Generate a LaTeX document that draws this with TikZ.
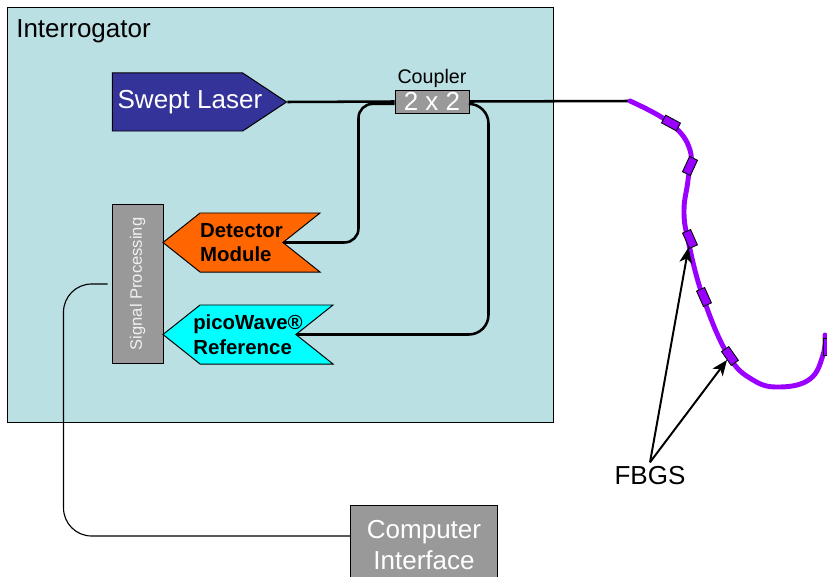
\documentclass[tikz,border=0pt]{standalone}
\usepackage{fontspec}
\setmainfont{Liberation Sans}
\usetikzlibrary{positioning,shapes.symbols,arrows.meta,calc}
\definecolor{interblue}{RGB}{186,224,227}
\definecolor{laserblue}{RGB}{51,51,153}
\definecolor{detorange}{RGB}{255,102,0}
\definecolor{refcyan}{RGB}{0,255,255}
\definecolor{procgrey}{RGB}{153,153,153}
\definecolor{fbgpurple}{RGB}{153,0,255}
\newcommand{\largetxt}{\fontsize{18.5}{22}\selectfont}
\newcommand{\midtxt}{\fontsize{14}{17}\selectfont}
\newcommand{\tagtxt}{\fontsize{14.5}{17.5}\selectfont\bfseries}
\newcommand{\smalltxt}{\fontsize{11.8}{14}\selectfont}
\tikzset{>={Stealth[length=11pt,width=9pt,inset=3pt]},
  greybox/.style={draw=black, line width=0.7pt, fill=procgrey, text=white, align=center, inner sep=0pt},
  tagshape/.style={shape=signal, draw=black, line width=0.7pt, signal pointer angle=#1, align=left, inner sep=0pt},
  fibre/.style={line width=1.8pt},
  fbgline/.style={line width=3.5pt, draw=fbgpurple, line cap=round},
  grating/.style={draw=black, fill=fbgpurple, line width=0.6pt, minimum width=0.42cm, minimum height=0.22cm, inner sep=0pt}}

\begin{document}
\begin{tikzpicture}[x=0.025cm,y=-0.025cm]
\useasboundingbox (0,0) rectangle (827,577);
\clip (0,0) rectangle (827,577);

\draw[fill=interblue, line width=0.7pt] (7,7) rectangle (553,422);
\node[anchor=base west, font=\largetxt, inner sep=0pt] (interrogator) at (16,38) {Interrogator};

\node[tagshape=67, fill=laserblue, text=white, signal to=east, inner xsep=-13.9pt, minimum height=1.45cm, font=\largetxt] (laser) at (177.5,102) {\hspace*{17.7pt}Swept Laser};
\node[greybox, minimum width=1.85cm, minimum height=0.575cm, font=\largetxt] (coupler) at (432,101.5) {2 x 2};
\node[above=1pt of coupler, font=\midtxt, inner sep=0pt] (couplerlabel) {Coupler};
\node[greybox, rotate=90, minimum width=3.95cm, minimum height=1.275cm, text=black!6, font=\smalltxt] (sigproc) at (137.5,284) {Signal Processing};
\node[tagshape=77, fill=detorange, signal to=west, signal from=east, minimum width=3.925cm, minimum height=1.475cm, font=\tagtxt] (detector) at (241.5,242.5) {Detector\\Module};
\node[tagshape=77, fill=refcyan, signal to=west, signal from=east, inner xsep=-5pt, minimum width=4.25cm, minimum height=1.475cm, font=\tagtxt] (picoref) at (248,334.5) {picoWave®\\Reference};
\node[greybox, minimum width=3.65cm, minimum height=2cm, font=\largetxt] (computer) at (424,545) {Computer\\Interface};

\coordinate (fibrestart) at (630,101);
\draw[fibre] (laser.east) -- (coupler.west);
\draw[fibre] (coupler.east) -- (fibrestart);
\draw[fibre, rounded corners=10] ([yshift=-0.06cm]coupler.west) -- ++(-36,0) |- (detector.east);
\draw[fibre, rounded corners=14] ([yshift=-0.06cm]coupler.east) -- ++(19,0) |- (picoref.east);
\draw[line width=0.8pt, rounded corners=20] ([xshift=-0.1cm]sigproc.north) -- ++(-44,0) |- ([yshift=0.225cm]computer.west);

\draw[fbgline] plot[smooth, tension=0.7] coordinates {(fibrestart) (670,123) (690,150) (688,180) (684,210) (688,240) (703,297) (728,355) (753,380) (780,387) (810,379) (823,355) (825,335)};
\foreach \gx/\gy/\ga/\gn in {671/123/-28/1, 690/166/65/2, 690/239/-66/3, 704/297/-66/4, 730/356/-55/5, 828/347/90/6}
  \node[grating, rotate=\ga] (g\gn) at (\gx,\gy) {};

\node[font=\largetxt, inner sep=3pt] (fbgs) at (650,476) {FBGS};
\draw[->, line width=1.4pt] (fbgs.north) -- (g3);
\draw[->, line width=1.4pt] (fbgs.north) -- (g5);
\end{tikzpicture}
\end{document}
